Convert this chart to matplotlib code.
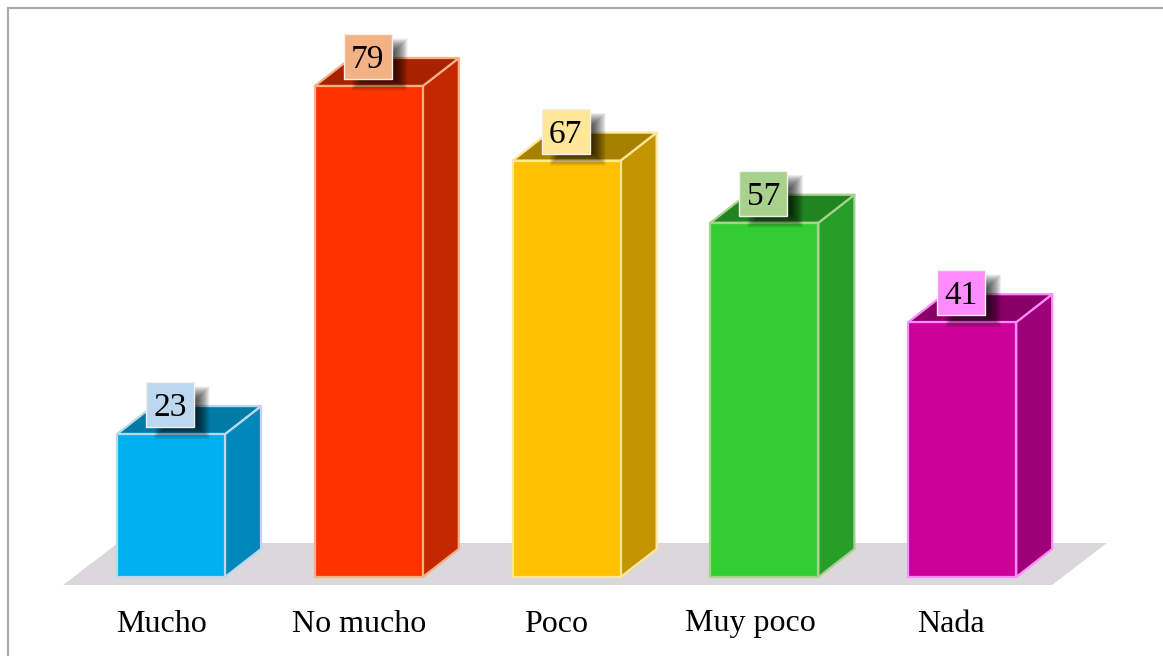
import matplotlib
matplotlib.use("Agg")
import matplotlib.pyplot as plt
from matplotlib.patches import Polygon, Rectangle

categories = ["Mucho", "No mucho", "Poco", "Muy poco", "Nada"]
values = [23, 79, 67, 57, 41]
front_colors = ["#00B0F0", "#FF3300", "#FFC000", "#32CD32", "#CC0099"]
side_colors = ["#0088BB", "#C42800", "#C49500", "#279E27", "#9E0077"]
top_colors = ["#007BA6", "#A82200", "#A88000", "#208420", "#880066"]
light_colors = ["#BDD7EE", "#F4B183", "#FFE699", "#A9D18E", "#FF8BFF"]
label_nudges = [-10, -10, -11, -14, -11]

W, H = 1163, 656
X0, XSTEP = 171.0, 197.8     # pixel centre of the first bar, spacing of bars
Y0, YUNIT = 577.0, 6.215     # pixel of value 0, pixels per unit
BAR_W, DX, DY = 108, 36, 28  # front width, depth offset in pixels

fig = plt.figure(figsize=(W / 100, H / 100), dpi=100)
ax = fig.add_axes([0, 0, 1, 1])
ax.set_xlim(-X0 / XSTEP, (W - X0) / XSTEP)
ax.set_ylim(-(H - Y0) / YUNIT, Y0 / YUNIT)
ax.axis("off")

px = 1 / XSTEP   # one pixel in x data units
py = 1 / YUNIT   # one pixel in y data units
font = ["Liberation Serif", "DejaVu Serif"]

# frame (left and top only are visible in the crop)
frame = dict(color="#A9A9A9", lw=1.5, transform=fig.transFigure, zorder=1)
ax.plot([8 / W, 8 / W], [0, 1 - 8 / H], **frame)
ax.plot([8 / W, 1], [1 - 8 / H, 1 - 8 / H], **frame)

# floor
last = len(categories) - 1
floor = [(-(X0 - 63) * px, -8 * py),
         (last + (1052 - (X0 + last * XSTEP)) * px, -8 * py),
         (last + (1107 - (X0 + last * XSTEP)) * px, 34 * py),
         (-(X0 - 118) * px, 34 * py)]
ax.add_patch(Polygon(floor, closed=True, fc="#DAD8DA", ec="none", zorder=2))

for i, (cat, v) in enumerate(zip(categories, values)):
    hw = BAR_W / 2 * px
    dx, dy = DX * px, DY * py
    edge = dict(ec=light_colors[i], lw=1.6, joinstyle="round")
    side = [(i + hw, 0), (i + hw + dx, dy), (i + hw + dx, v + dy), (i + hw, v)]
    top = [(i - hw, v), (i + hw, v), (i + hw + dx, v + dy), (i - hw + dx, v + dy)]
    ax.add_patch(Polygon(side, closed=True, fc=side_colors[i], zorder=3, **edge))
    ax.add_patch(Polygon(top, closed=True, fc=top_colors[i], zorder=3, **edge))
    ax.add_patch(Rectangle((i - hw, 0), 2 * hw, v, fc=front_colors[i], zorder=4, **edge))

    # value label box geometry (pixels relative to the bar's top centre)
    bx0, bx1 = -25, 23
    by0, by1 = 7, 52
    # soft shadow: stacked translucent rectangles
    n = 32
    for k in range(n):
        g = 4 - 16 * k / (n - 1)
        ax.add_patch(Rectangle(
            (i + (bx0 + 12 - g) * px, v + (by0 - 8 - g) * py),
            (bx1 - bx0 + 2 * g) * px, (by1 - by0 + 2 * g) * py,
            fc="black", ec="none", alpha=0.035, zorder=5))
    ax.add_patch(Rectangle((i + bx0 * px, v + by0 * py), (bx1 - bx0) * px, (by1 - by0) * py,
                           fc=light_colors[i], ec="#F4F0EC", lw=1.0, zorder=6))
    ax.text(i + (bx0 + bx1) / 2 * px, v + (by0 + by1) / 2 * py, str(v),
            ha="center", va="center_baseline", fontsize=24, family=font,
            color="black", zorder=7)
    ax.text(i + label_nudges[i] * px, -(624 - Y0) * py, cat,
            ha="center", va="center", fontsize=23, family=font, color="black", zorder=7)

fig.savefig("out.png", dpi=100, facecolor="white")
